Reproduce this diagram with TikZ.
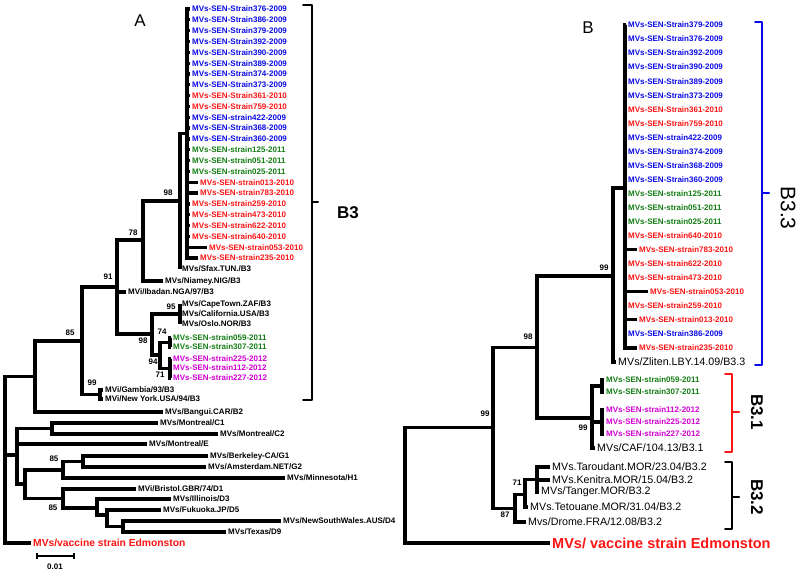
\documentclass[tikz,border=0pt]{standalone}
\usepackage{fontspec}
\setmainfont{Liberation Sans}
\definecolor{sblue}{RGB}{10,10,230}
\definecolor{sred}{RGB}{250,20,20}
\definecolor{sgreen}{RGB}{20,125,20}
\definecolor{smag}{RGB}{210,0,210}
\begin{document}
\begin{tikzpicture}[x=1pt,y=-1pt,
 br/.style={line width=3.3pt, line join=miter},
 lf/.style={font=\bfseries\fontsize{8}{9}\selectfont, inner sep=0pt, inner xsep=2pt, anchor=west},
 lfb/.style={font=\fontsize{10.7}{12}\selectfont, inner sep=0pt, inner xsep=2pt, anchor=west},
 bs/.style={font=\bfseries\fontsize{8}{9}\selectfont, inner sep=0pt},
 brk/.style={line width=2pt, line join=round, line cap=round},
 clab/.style={font=\bfseries\fontsize{17}{20}\selectfont, inner sep=0pt}]
\useasboundingbox (0,0) rectangle (800,574);

% ================= TREE A =================
\node[font=\fontsize{17}{20}\selectfont] (labA) at (140,21) {A};
% internal nodes
\coordinate (RA) at (5,455);
\coordinate (nB2) at (35,376.5);
\coordinate (n85) at (82,341);
\coordinate (n99G) at (100,394.5);
\coordinate (n91) at (117,287);
\coordinate (n78) at (143,240);
\coordinate (n98) at (180,201);
\coordinate (nS) at (187,133.5);
\coordinate (n98b) at (152,334);
\coordinate (n95) at (180,314);
\coordinate (n94) at (160,355);
\coordinate (n74) at (170,342.5);
\coordinate (n71) at (170,368.5);
\coordinate (nCEGD) at (17,455);
\coordinate (nC) at (52,428.5);
\coordinate (nGD) at (25,484);
\coordinate (nGM) at (63,470);
\coordinate (nG) at (83,461.5);
\coordinate (nD) at (63,498.5);
\coordinate (nD2) at (97,508);
\coordinate (nD3) at (107,515);
\coordinate (nD4) at (123,526.5);

\foreach \t/\c/\xx [count=\i from 0] in {
 Strain376-2009/sblue/190, Strain386-2009/sblue/190, Strain379-2009/sblue/190,
 Strain392-2009/sblue/190, Strain390-2009/sblue/190, Strain389-2009/sblue/190,
 Strain374-2009/sblue/190, Strain373-2009/sblue/190, Strain361-2010/sred/190,
 Strain759-2010/sred/190, strain422-2009/sblue/190, Strain368-2009/sblue/190,
 Strain360-2009/sblue/190, strain125-2011/sgreen/190, strain051-2011/sgreen/190,
 strain025-2011/sgreen/190, strain013-2010/sred/198, strain783-2010/sred/198,
 strain259-2010/sred/190, strain473-2010/sred/190, strain622-2010/sred/190,
 strain640-2010/sred/190, strain053-2010/sred/207, strain235-2010/sred/198}
{
 \node[lf,text=\c] (a\i) at (\xx,{9+10.83*\i}) {MVs-SEN-\t};
 \draw[br] (nS) |- (a\i.west);
}
\node[lf] (sfax) at (180,269) {MVs/Sfax.TUN./B3};
\node[lf] (niamey) at (163,281) {MVs/Niamey.NIG/B3};
\node[lf] (ibadan) at (126,292) {MVi/Ibadan.NGA/97/B3};
\node[lf] (cape) at (180,304) {MVs/CapeTown.ZAF/B3};
\node[lf] (calif) at (180,314) {MVs/California.USA/B3};
\node[lf] (oslo) at (180,324) {MVs/Oslo.NOR/B3};
\node[lf,text=sgreen] (g059) at (171,338) {MVs-SEN-strain059-2011};
\node[lf,text=sgreen] (g307) at (171,347) {MVs-SEN-strain307-2011};
\node[lf,text=smag] (m225) at (171,359) {MVs-SEN-strain225-2012};
\node[lf,text=smag] (m112) at (171,368) {MVs-SEN-strain112-2012};
\node[lf,text=smag] (m227) at (171,378) {MVs-SEN-strain227-2012};
\node[lf] (gambia) at (103,390) {MVi/Gambia/93/B3};
\node[lf] (newyork) at (103,399) {MVi/New York.USA/94/B3};
\node[lf] (bangui) at (163,412) {MVs/Bangui.CAR/B2};
\node[lf] (c1) at (158,423) {MVs/Montreal/C1};
\node[lf] (c2) at (218,434) {MVs/Montreal/C2};
\node[lf] (mone) at (147,444) {MVs/Montreal/E};
\node[lf] (berk) at (208,456) {MVs/Berkeley-CA/G1};
\node[lf] (amst) at (206,467) {MVs/Amsterdam.NET/G2};
\node[lf] (minn) at (285,478) {MVs/Minnesota/H1};
\node[lf] (bristol) at (136,489) {MVi/Bristol.GBR/74/D1};
\node[lf] (illin) at (171,499) {MVs/Illinois/D3};
\node[lf] (fuku) at (161,510) {MVs/Fukuoka.JP/D5};
\node[lf] (nsw) at (281,521) {MVs/NewSouthWales.AUS/D4};
\node[lf] (texas) at (226,532) {MVs/Texas/D9};
\node[lf,text=sred,font=\bfseries\fontsize{10.3}{12}\selectfont] (vacA) at (31,543) {MVs/vaccine strain Edmonston};

\draw[br] (n98) |- (nS);  \draw[br] (n98) |- (sfax.west);
\draw[br] (n78) |- (n98); \draw[br] (n78) |- (niamey.west);
\draw[br] (n91) |- (n78); \draw[br] (n91) |- (ibadan.west); \draw[br] (n91) |- (n98b);
\draw[br] (n98b) |- (n95); \draw[br] (n98b) |- (n94);
\draw[br] (n95) |- (cape.west); \draw[br] (n95) |- (calif.west); \draw[br] (n95) |- (oslo.west);
\draw[br] (n94) |- (n74); \draw[br] (n94) |- (n71);
\draw[br] (n74) |- (g059.west); \draw[br] (n74) |- (g307.west);
\draw[br] (n71) |- (m225.west); \draw[br] (n71) |- (m112.west); \draw[br] (n71) |- (m227.west);
\draw[br] (n85) |- (n91); \draw[br] (n85) |- (n99G);
\draw[br] (n99G) |- (gambia.west); \draw[br] (n99G) |- (newyork.west);
\draw[br] (nB2) |- (n85); \draw[br] (nB2) |- (bangui.west);
\draw[br] (RA) |- (nB2); \draw[br] (RA) |- (nCEGD); \draw[br] (RA) |- (vacA.west);
\draw[br] (nCEGD) |- (nC); \draw[br] (nCEGD) |- (mone.west); \draw[br] (nCEGD) |- (nGD);
\draw[br] (nC) |- (c1.west); \draw[br] (nC) |- (c2.west);
\draw[br] (nGD) |- (nGM); \draw[br] (nGD) |- (nD);
\draw[br] (nGM) |- (nG); \draw[br] (nGM) |- (minn.west);
\draw[br] (nG) |- (berk.west); \draw[br] (nG) |- (amst.west);
\draw[br] (nD) |- (bristol.west); \draw[br] (nD) |- (nD2);
\draw[br] (nD2) |- (illin.west); \draw[br] (nD2) |- (nD3);
\draw[br] (nD3) |- (fuku.west); \draw[br] (nD3) |- (nD4);
\draw[br] (nD4) |- (nsw.west); \draw[br] (nD4) |- (texas.west);

% bootstrap A
\node[bs] (bA1) at (168,193) {98};
\node[bs] (bA2) at (133,233) {78};
\node[bs] (bA3) at (108,277) {91};
\node[bs] (bA4) at (70,333) {85};
\node[bs] (bA5) at (92,383) {99};
\node[bs] (bA6) at (171,307) {95};
\node[bs] (bA7) at (143,341) {98};
\node[bs] (bA8) at (162,332) {74};
\node[bs] (bA9) at (153,362) {94};
\node[bs] (bA10) at (160,375) {71};
\node[bs] (bA11) at (54,459) {85};
\node[bs] (bA12) at (53,508) {85};

% bracket B3
\draw[brk] (303,5) -- (312,5) -- (312,400) -- (303,400);
\draw[brk] (312,202) -- (318,202);
\node[clab] (lB3) at (348,213) {B3};

% scale bar
\draw[line width=1.3pt] (37,553) -- (37,559) (37,556) -- (74,556) (74,553) -- (74,559);
\node[bs] (scale) at (55,567) {0.01};

% ================= TREE B =================
\node[font=\fontsize{17}{20}\selectfont] (labB) at (588,28) {B};
\coordinate (RB) at (405,470);
\coordinate (m99a) at (493,427.5);
\coordinate (m98) at (537,347.5);
\coordinate (m99b) at (613,276);
\coordinate (mS) at (625,188);
\coordinate (m31) at (592,418);
\coordinate (mG) at (602,386);
\coordinate (mM) at (602,422);
\coordinate (m87) at (515,508.5);
\coordinate (mX) at (525,494.5);
\coordinate (m71) at (537,479.5);

\foreach \t/\c/\xx [count=\i from 0] in {
 Strain379-2009/sblue/626, Strain376-2009/sblue/626, Strain392-2009/sblue/626,
 Strain390-2009/sblue/626, Strain389-2009/sblue/626, Strain373-2009/sblue/626,
 Strain361-2010/sred/626, Strain759-2010/sred/626, strain422-2009/sblue/626,
 Strain374-2009/sblue/626, Strain368-2009/sblue/626, Strain360-2009/sblue/626,
 strain125-2011/sgreen/626, strain051-2011/sgreen/626, strain025-2011/sgreen/626,
 strain640-2010/sred/626, strain783-2010/sred/637, strain622-2010/sred/626,
 strain473-2010/sred/626, strain053-2010/sred/648, strain259-2010/sred/626,
 strain013-2010/sred/637, Strain386-2009/sblue/626, strain235-2010/sred/637}
{
 \node[lf,text=\c] (b\i) at (\xx,{25+14.04*\i}) {MVs-SEN-\t};
 \draw[br] (mS) |- (b\i.west);
}
\node[lfb] (zliten) at (616,362) {MVs/Zliten.LBY.14.09/B3.3};
\node[lf,text=sgreen] (h059) at (604,380) {MVs-SEN-strain059-2011};
\node[lf,text=sgreen] (h307) at (604,392) {MVs-SEN-strain307-2011};
\node[lf,text=smag] (k112) at (604,410) {MVs-SEN-strain112-2012};
\node[lf,text=smag] (k225) at (604,422) {MVs-SEN-strain225-2012};
\node[lf,text=smag] (k227) at (604,434) {MVs-SEN-strain227-2012};
\node[lfb] (caf) at (595,448) {MVs/CAF/104.13/B3.1};
\node[lfb] (tarou) at (550,467) {MVs.Taroudant.MOR/23.04/B3.2};
\node[lfb] (kenit) at (550,480) {MVs.Kenitra.MOR/15.04/B3.2};
\node[lfb] (tanger) at (539,492) {MVs/Tanger.MOR/B3.2};
\node[lfb] (tetou) at (528,507) {MVs.Tetouane.MOR/31.04/B3.2};
\node[lfb] (drome) at (526,522) {Mvs/Drome.FRA/12.08/B3.2};
\node[lf,text=sred,font=\bfseries\fontsize{14.5}{16}\selectfont] (vacB) at (550,543) {MVs/ vaccine strain Edmonston};

\draw[br] (m99b) |- (mS); \draw[br] (m99b) |- (zliten.west);
\draw[br] (m98) |- (m99b); \draw[br] (m98) |- (m31);
\draw[br] (m31) |- (mG); \draw[br] (m31) |- (mM); \draw[br] (m31) |- (caf.west);
\draw[br] (mG) |- (h059.west); \draw[br] (mG) |- (h307.west);
\draw[br] (mM) |- (k112.west); \draw[br] (mM) |- (k225.west); \draw[br] (mM) |- (k227.west);
\draw[br] (m99a) |- (m98); \draw[br] (m99a) |- (m87);
\draw[br] (m87) |- (mX); \draw[br] (m87) |- (drome.west);
\draw[br] (mX) |- (m71); \draw[br] (mX) |- (tetou.west);
\draw[br] (m71) |- (tarou.west); \draw[br] (m71) |- (kenit.west); \draw[br] (m71) |- (tanger.west);
\draw[br] (RB) |- (m99a); \draw[br] (RB) |- (vacB.west);

% bootstrap B
\node[bs] (bB1) at (604,268) {99};
\node[bs] (bB2) at (528,337) {98};
\node[bs] (bB3) at (583,428) {99};
\node[bs] (bB4) at (485,414) {99};
\node[bs] (bB5) at (505,515) {87};
\node[bs] (bB6) at (517,483) {71};

% brackets B
\draw[brk,draw=sblue] (755,22) -- (762,22) -- (762,365) -- (755,365);
\draw[brk,draw=sblue] (762,193) -- (769,193);
\node[font=\fontsize{21}{24}\selectfont, rotate=-90, inner sep=0pt] (lB33) at (788,208) {B3.3};
\draw[brk,draw=sred] (725,374) -- (732,374) -- (732,452) -- (725,452);
\draw[brk,draw=sred] (732,412) -- (739,412);
\node[clab, rotate=-90] (lB31) at (757,412) {B3.1};
\draw[brk] (725,462) -- (732,462) -- (732,529) -- (725,529);
\draw[brk] (732,497) -- (739,497);
\node[clab, rotate=-90] (lB32) at (757,497) {B3.2};
\end{tikzpicture}
\end{document}
